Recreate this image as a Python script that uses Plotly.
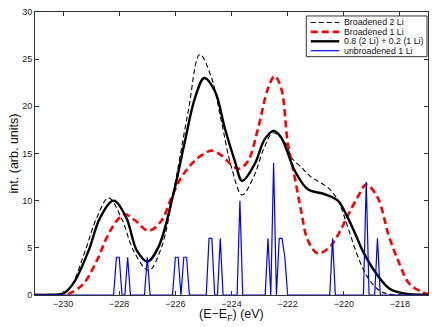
import numpy as np
import plotly.graph_objects as go

# ---- data ----
# Broadened 2 Li (black dashed)
b2_x = [-231.0, -230.5, -230.0, -229.7, -229.21, -228.8, -228.38, -227.9, -227.49, -226.95,
        -226.5, -226.07, -225.54, -225.13, -224.71, -224.36, -224.0, -223.62, -223.2, -222.85,
        -222.52, -222.05, -221.87, -221.5, -221.16, -220.57, -220.2, -219.86, -219.45, -219.09,
        -218.74, -218.4, -217.5, -217.0]
b2_y = [0.0, 0.03, 0.2, 1.0, 4.7, 8.2, 10.3, 8.0, 4.7, 2.6,
        5.0, 10.9, 19.5, 25.5, 23.0, 18.4, 13.5, 10.6, 12.6, 15.5,
        17.2, 16.0, 14.6, 13.5, 12.5, 11.4, 10.0, 7.2, 3.7, 1.6,
        0.5, 0.1, 0.0, 0.0]

# Broadened 1 Li (red dashed)
b1_x = [-231.0, -230.0, -229.74, -229.27, -228.79, -228.44, -228.08, -227.8, -227.43, -226.96,
        -226.49, -226.13, -225.78, -225.42, -225.07, -224.71, -224.36, -223.88, -223.7, -223.41,
        -223.05, -222.7, -222.46, -222.23, -221.99, -221.75, -221.52, -221.28, -220.92, -220.5,
        -220.2, -219.86, -219.5, -219.2, -218.79, -218.4, -218.03, -217.67, -217.2, -217.0]
b1_y = [0.0, 0.02, 0.2, 1.2, 3.7, 6.1, 7.9, 8.55, 7.9, 6.8,
        7.9, 10.4, 12.5, 13.9, 14.8, 15.3, 14.8, 13.5, 13.4, 14.2,
        17.7, 21.9, 23.2, 21.9, 16.0, 12.5, 8.9, 5.8, 4.4, 5.1,
        6.4, 8.4, 10.4, 11.7, 10.3, 6.3, 3.4, 1.2, 0.3, 0.1]

# 0.8 (2 Li) + 0.2 (1 Li) (black solid)
mix_x = [-231.0, -230.5, -230.0, -229.64, -229.09, -228.68, -228.2, -227.75, -227.37, -226.99,
         -226.6, -226.07, -225.66, -225.3, -224.97, -224.59, -224.24, -223.88, -223.62, -223.17,
         -222.82, -222.5, -222.23, -221.75, -221.28, -220.69, -220.21, -219.86, -219.55, -219.33,
         -218.85, -218.38, -217.9, -217.0]
mix_y = [0.0, 0.03, 0.15, 1.2, 4.7, 8.2, 10.0, 8.2, 4.7, 3.55,
         5.1, 10.7, 16.3, 20.9, 23.0, 21.6, 17.7, 14.2, 12.1, 13.9,
         16.5, 17.4, 16.7, 13.2, 11.2, 10.7, 10.0, 8.2, 6.2, 4.7,
         2.3, 0.7, 0.2, 0.0]

# unbroadened 1 Li (blue sticks on a 0.1 eV grid)
stick_e = [-228.1, -228.0, -227.7, -227.0, -226.0, -225.9, -225.7, -225.6, -224.8, -224.7,
           -224.4, -223.7, -222.7, -222.5, -222.3, -222.2, -222.1, -220.4, -219.2, -218.8]
stick_h = [4, 4, 4, 4, 4, 4, 4, 4, 6, 6,
           6, 10, 6, 14, 6, 6, 4, 6, 12, 6]

x_ticks = [-230, -228, -226, -224, -222, -220, -218]
y_ticks = [0, 5, 10, 15, 20, 25, 30]

series_names = ["Broadened 2 Li", "Broadened 1 Li", "0.8 (2 Li) + 0.2 (1 Li)", "unbroadened 1 Li"]
x_title = "(E−E<sub>F</sub>) (eV)"
y_title = "int. (arb. units)"

# histogram grid for the stick spectrum
grid = np.round(np.arange(-231.0, -216.95, 0.1), 1)
lookup = {round(e, 1): h for e, h in zip(stick_e, stick_h)}
stick_y = [lookup.get(round(float(g), 1), 0) for g in grid]

font_family = "Liberation Sans, Arial, sans-serif"

styles = [
    dict(color="black", width=1.1, dash="5px,3px"),
    dict(color="#ff0000", width=2.6, dash="7px,4px"),
    dict(color="black", width=2.4, dash="solid"),
    dict(color="#0000ff", width=1.2, dash="solid"),
]

fig = go.Figure()
fig.add_trace(go.Scatter(x=b2_x, y=b2_y, mode="lines", name=series_names[0],
                         line=dict(**styles[0], shape="spline", smoothing=1.0)))
fig.add_trace(go.Scatter(x=b1_x, y=b1_y, mode="lines", name=series_names[1],
                         line=dict(**styles[1], shape="spline", smoothing=1.0)))
fig.add_trace(go.Scatter(x=mix_x, y=mix_y, mode="lines", name=series_names[2],
                         line=dict(**styles[2], shape="spline", smoothing=1.0)))
fig.add_trace(go.Scatter(x=grid, y=stick_y, mode="lines", name=series_names[3],
                         line=dict(**styles[3])))

# ---- compact legend box (drawn in plot-area fractions) ----
W, H = 436, 327
ml, mr, mt, mb = 35, 7, 10, 32
pw, ph = W - ml - mr, H - mt - mb


def px2fx(px):
    return (px - ml) / pw


def py2fy(py):
    return (H - mb - py) / ph


shapes = [dict(type="rect", xref="paper", yref="paper",
               x0=px2fx(307), x1=px2fx(428), y0=py2fy(55), y1=py2fy(14),
               line=dict(color="#333333", width=1), fillcolor="rgb(255,255,255)",
               opacity=1, layer="above")]
annotations = []
row_py = [20.5, 30.0, 39.5, 49.0]
for name, st, py in zip(series_names, styles, row_py):
    shapes.append(dict(type="line", xref="paper", yref="paper",
                       x0=px2fx(311.5), x1=px2fx(340), y0=py2fy(py), y1=py2fy(py),
                       line=dict(color=st["color"], width=st["width"], dash=st["dash"]),
                       layer="above"))
    annotations.append(dict(text=name, xref="paper", yref="paper",
                            x=px2fx(343), y=py2fy(py), xanchor="left", yanchor="middle",
                            showarrow=False,
                            font=dict(family=font_family, size=8.8, color="#111111")))

# x-axis title placed close under the tick labels, as in the reference
annotations.append(dict(text=x_title, xref="paper", yref="paper",
                        x=0.5, y=py2fy(306.5), xanchor="center", yanchor="top",
                        showarrow=False, borderpad=0,
                        font=dict(family=font_family, size=12.5, color="#111111")))

axis_common = dict(
    showgrid=False, zeroline=False, showline=True, linecolor="#333333", linewidth=1,
    mirror="ticks", ticks="inside", ticklen=4, tickcolor="#333333",
    tickfont=dict(family=font_family, size=9, color="#222222"),
)

fig.update_layout(
    width=W, height=H,
    margin=dict(l=ml, r=mr, t=mt, b=mb),
    paper_bgcolor="white", plot_bgcolor="white",
    font=dict(family=font_family, color="#111111"),
    xaxis=dict(range=[-231, -217], tickvals=x_ticks, **axis_common),
    yaxis=dict(range=[0, 30], tickvals=y_ticks,
               title=dict(text=y_title, font=dict(size=12.5), standoff=0),
               **axis_common),
    shapes=shapes,
    annotations=annotations,
    showlegend=False,
)

fig.write_html("out.html", config={"displayModeBar": False},
               post_script="document.body.style.margin='0px';")
